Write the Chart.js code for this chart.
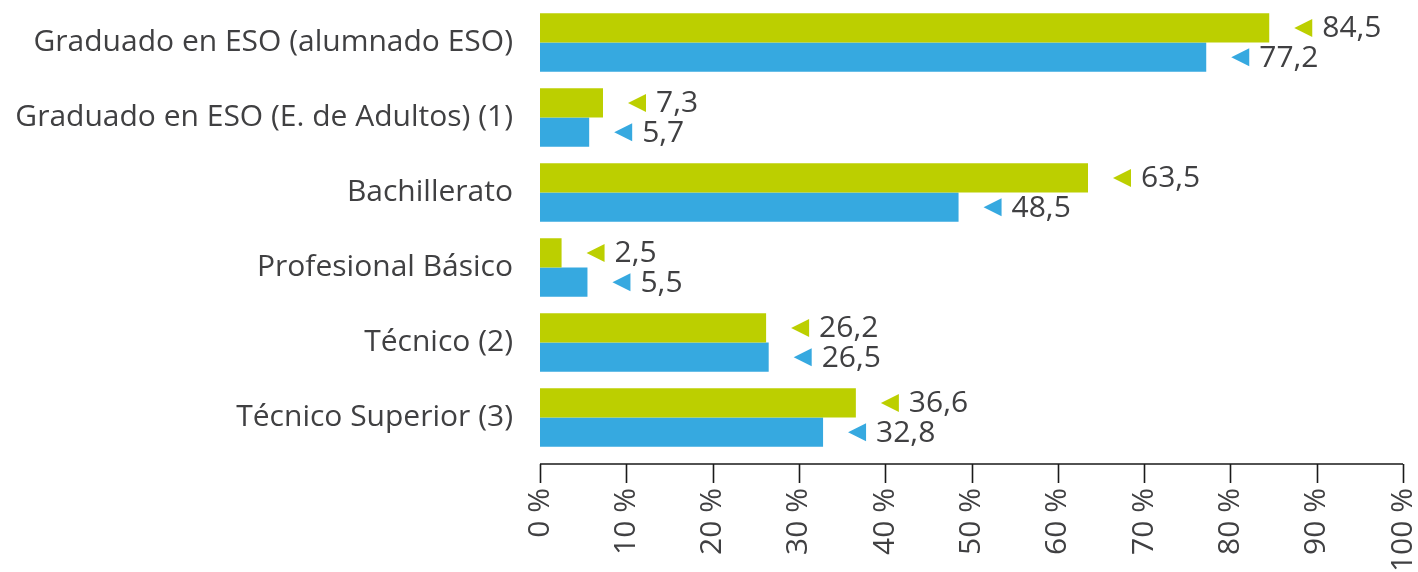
<!DOCTYPE html>
<html>
<head>
<meta charset="utf-8">
<script src="https://cdn.jsdelivr.net/npm/chart.js@4.4.1/dist/chart.umd.min.js"></script>
<style>
  html, body { margin: 0; padding: 0; background: #fff; }
  #wrap { width: 1418px; height: 572px; position: relative; }
</style>
</head>
<body>
<div id="wrap"><canvas id="chart"></canvas></div>
<script>
const categories = [
    'Graduado en ESO (alumnado ESO)',
    'Graduado en ESO (E. de Adultos) (1)',
    'Bachillerato',
    'Profesional Básico',
    'Técnico (2)',
    'Técnico Superior (3)'
];
const greenValues = [84.5, 7.3, 63.5, 2.5, 26.2, 36.6];
const blueValues = [77.2, 5.7, 48.5, 5.5, 26.5, 32.8];
const xTicks = [0, 10, 20, 30, 40, 50, 60, 70, 80, 90, 100];

const GREEN = '#bccf00';
const BLUE = '#36a9e0';
const TEXT = '#404042';
const FONT = '"Open Sans", sans-serif';
const FONT_SIZE = 30;

// axis line + ticks, drawn a few px below the plot area like the original
const axisPlugin = {
    id: 'axisLine',
    afterDraw(chart) {
        const ctx = chart.ctx;
        const x = chart.scales.x;
        const y0 = x.top + 9;
        const y1 = x.top + 28;
        ctx.save();
        ctx.strokeStyle = '#1a1a1a';
        ctx.lineWidth = 1.6;
        ctx.beginPath();
        ctx.moveTo(x.getPixelForValue(0), y0);
        ctx.lineTo(x.getPixelForValue(100), y0);
        xTicks.forEach(t => {
            const px = Math.round(x.getPixelForValue(t)) + 0.5;
            ctx.moveTo(px, y0);
            ctx.lineTo(px, y1);
        });
        ctx.stroke();
        ctx.restore();
    }
};

// little triangle + value next to each bar
const valuePlugin = {
    id: 'valueLabels',
    afterDatasetsDraw(chart) {
        const ctx = chart.ctx;
        ctx.save();
        ctx.font = FONT_SIZE + 'px ' + FONT;
        ctx.textBaseline = 'middle';
        ctx.textAlign = 'left';
        chart.data.datasets.forEach((ds, i) => {
            const meta = chart.getDatasetMeta(i);
            meta.data.forEach((bar, j) => {
                const tip = bar.x + 25;
                const cy = bar.y;
                ctx.fillStyle = ds.backgroundColor;
                ctx.beginPath();
                ctx.moveTo(tip, cy);
                ctx.lineTo(tip + 18, cy - 9);
                ctx.lineTo(tip + 18, cy + 9);
                ctx.closePath();
                ctx.fill();
                ctx.fillStyle = TEXT;
                ctx.fillText(String(ds.data[j]).replace('.', ','), tip + 28, cy + 1);
            });
        });
        ctx.restore();
    }
};

new Chart(document.getElementById('chart'), {
    type: 'bar',
    data: {
        labels: categories,
        datasets: [
            { data: greenValues, backgroundColor: GREEN, borderWidth: 0, categoryPercentage: 0.78, barPercentage: 1 },
            { data: blueValues, backgroundColor: BLUE, borderWidth: 0, categoryPercentage: 0.78, barPercentage: 1 }
        ]
    },
    options: {
        indexAxis: 'y',
        responsive: true,
        maintainAspectRatio: false,
        animation: false,
        layout: { padding: { top: 5, right: 15, left: 0, bottom: 0 } },
        plugins: {
            legend: { display: false },
            tooltip: { enabled: false }
        },
        scales: {
            x: {
                min: 0,
                max: 100,
                grid: { display: false, drawTicks: true, tickLength: 28 },
                border: { display: false },
                afterBuildTicks(scale) {
                    scale.ticks = xTicks.map(v => ({ value: v }));
                },
                afterFit(scale) {
                    scale.height = 117;
                    scale.paddingLeft = 0;
                    scale.paddingRight = 0;
                },
                ticks: {
                    minRotation: 90,
                    maxRotation: 90,
                    padding: 5,
                    color: TEXT,
                    font: { family: FONT, size: FONT_SIZE },
                    callback: v => v + ' %'
                }
            },
            y: {
                grid: { display: false, drawTicks: false },
                border: { display: false },
                afterFit(scale) {
                    scale.width = 540;
                    scale.paddingTop = 0;
                    scale.paddingBottom = 0;
                },
                ticks: {
                    padding: 27,
                    color: TEXT,
                    font: { family: FONT, size: FONT_SIZE }
                }
            }
        }
    },
    plugins: [axisPlugin, valuePlugin]
});
</script>
</body>
</html>
